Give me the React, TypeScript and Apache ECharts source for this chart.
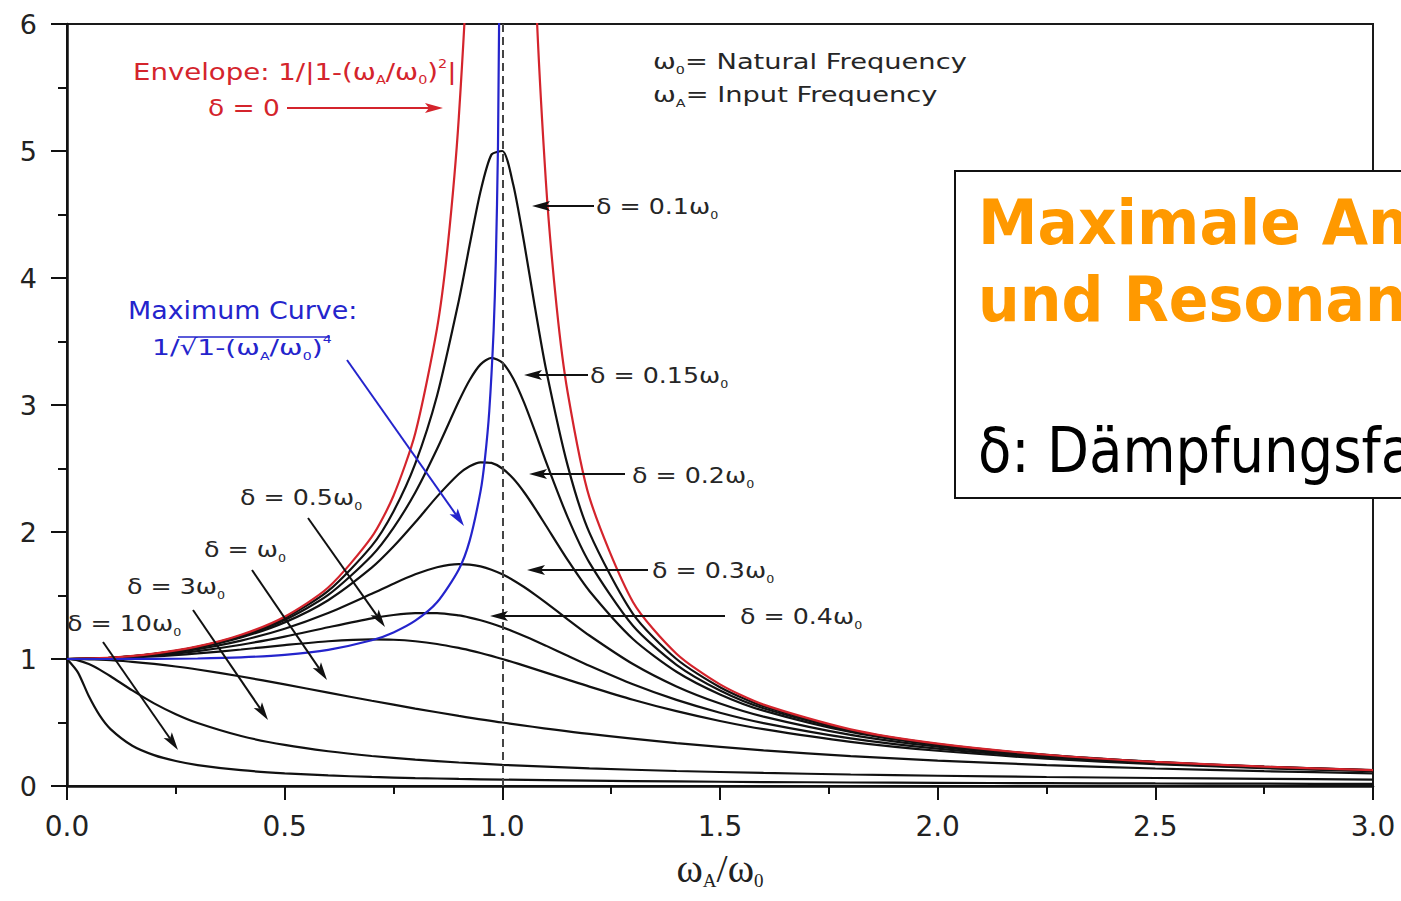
import React, { useEffect, useRef } from "react";
import * as echarts from "echarts";

// ---- Data (ω_A/ω_0 on x, amplitude ratio on y) ----
const xResonant = [0, 0.1, 0.2, 0.3, 0.4, 0.5, 0.6, 0.7, 0.75, 0.8, 0.85, 0.9, 0.925, 0.95, 0.975, 1.0, 1.025, 1.05, 1.075, 1.1, 1.15, 1.2, 1.3, 1.4, 1.5, 1.6, 1.8, 2.0, 2.25, 2.5, 2.75, 3.0];
const yDelta010 = [1, 1.0099, 1.0408, 1.0965, 1.1851, 1.3216, 1.5357, 1.8908, 2.1622, 2.5384, 3.0728, 3.8208, 4.2613, 4.6826, 4.9713, 5.0, 4.7358, 4.2794, 3.7677, 3.288, 2.5245, 1.9952, 1.3562, 1.0, 0.7779, 0.6279, 0.4408, 0.3304, 0.2447, 0.1896, 0.1518, 0.1246];
const yDelta015 = [1, 1.0096, 1.0396, 1.0936, 1.1785, 1.3074, 1.5041, 1.8131, 2.0326, 2.3112, 2.6534, 3.0289, 3.1968, 3.3199, 3.3711, 3.3333, 3.2088, 3.0188, 2.7926, 2.5566, 2.1174, 1.759, 1.2617, 0.9543, 0.7527, 0.6127, 0.434, 0.3269, 0.2428, 0.1886, 0.1512, 0.1242];
const yDelta020 = [1, 1.0093, 1.0381, 1.0895, 1.1695, 1.2883, 1.463, 1.7188, 1.8851, 2.0761, 2.2786, 2.4566, 2.5178, 2.549, 2.5438, 2.5, 2.4206, 2.313, 2.1868, 2.0511, 1.78, 1.5357, 1.1574, 0.8998, 0.7212, 0.5931, 0.425, 0.3221, 0.2403, 0.1871, 0.1503, 0.1236];
const yDelta030 = [1, 1.0082, 1.0336, 1.078, 1.1447, 1.238, 1.3618, 1.5136, 1.5933, 1.6667, 1.7223, 1.7469, 1.7438, 1.7293, 1.7034, 1.6667, 1.6205, 1.5667, 1.5071, 1.4438, 1.3129, 1.1851, 0.9603, 0.7839, 0.6492, 0.5459, 0.4021, 0.3095, 0.2336, 0.1831, 0.1478, 0.122];
const yDelta040 = [1, 1.0068, 1.0275, 1.0626, 1.1125, 1.1765, 1.25, 1.3203, 1.3467, 1.3618, 1.3616, 1.3429, 1.3263, 1.3051, 1.2795, 1.25, 1.2172, 1.1817, 1.1442, 1.1053, 1.0258, 0.9469, 0.8012, 0.6779, 0.5771, 0.4956, 0.3755, 0.2941, 0.2251, 0.178, 0.1445, 0.1197];
const yDelta050 = [1, 1.005, 1.0198, 1.0436, 1.0748, 1.1094, 1.1399, 1.1546, 1.1517, 1.1399, 1.1184, 1.0872, 1.0681, 1.0471, 1.0243, 1.0, 0.9744, 0.9479, 0.9206, 0.893, 0.8373, 0.7824, 0.6795, 0.5891, 0.5121, 0.4475, 0.348, 0.2774, 0.2153, 0.172, 0.1405, 0.117];

const xDamped = [0, 0.025, 0.05, 0.075, 0.1, 0.15, 0.2, 0.25, 0.3, 0.4, 0.5, 0.6, 0.7, 0.8, 0.9, 1.0, 1.2, 1.4, 1.6, 1.8, 2.0, 2.25, 2.5, 2.75, 3.0];
const yDelta1 = [1, 0.9994, 0.9975, 0.9944, 0.9901, 0.978, 0.9615, 0.9412, 0.9174, 0.8621, 0.8, 0.7353, 0.6711, 0.6098, 0.5525, 0.5, 0.4098, 0.3378, 0.2809, 0.2358, 0.2, 0.1649, 0.1379, 0.1168, 0.1];
const yDelta3 = [1, 0.9895, 0.96, 0.9162, 0.8638, 0.7526, 0.6507, 0.5653, 0.4958, 0.3933, 0.3234, 0.2735, 0.2364, 0.2078, 0.1851, 0.1667, 0.1386, 0.1183, 0.1028, 0.0907, 0.0808, 0.0709, 0.0629, 0.0563, 0.0508];
const yDelta10 = [1, 0.8949, 0.708, 0.5557, 0.4481, 0.3169, 0.2431, 0.1966, 0.1648, 0.1243, 0.0997, 0.0832, 0.0714, 0.0625, 0.0556, 0.05, 0.0417, 0.0357, 0.0312, 0.0277, 0.0249, 0.0221, 0.0199, 0.0181, 0.0165];

const xEnvelope = [0, 0.1, 0.2, 0.3, 0.4, 0.5, 0.6, 0.7, 0.75, 0.8, 0.85, 0.875, 0.9, 0.925, 0.95, 1.0, 1.05, 1.075, 1.1, 1.125, 1.15, 1.2, 1.3, 1.4, 1.5, 1.6, 1.8, 2.0, 2.25, 2.5, 2.75, 3.0];
const yEnvelope = [1, 1.0101, 1.0417, 1.0989, 1.1905, 1.3333, 1.5625, 1.9608, 2.2857, 2.7778, 3.6036, 4.2667, 5.2632, 6.9264, 10.256, null, 9.756, 6.4257, 4.7619, 3.7647, 3.1008, 2.2727, 1.4493, 1.0417, 0.8, 0.641, 0.4464, 0.3333, 0.2462, 0.1905, 0.1524, 0.125];

const xMaximum = [0, 0.1, 0.2, 0.3, 0.4, 0.5, 0.6, 0.7, 0.75, 0.8, 0.85, 0.9, 0.925, 0.95, 0.96, 0.97, 0.98, 0.985, 0.99, 0.995];
const yMaximum = [1, 1.0001, 1.0008, 1.0041, 1.013, 1.0328, 1.0719, 1.1472, 1.2095, 1.3015, 1.4464, 1.7052, 1.932, 2.3219, 2.5764, 2.9526, 3.589, 4.1287, 5.038, 7.098];

const dampedCurves = [
  { name: "δ = 0.1ω0", xs: xResonant, ys: yDelta010 },
  { name: "δ = 0.15ω0", xs: xResonant, ys: yDelta015 },
  { name: "δ = 0.2ω0", xs: xResonant, ys: yDelta020 },
  { name: "δ = 0.3ω0", xs: xResonant, ys: yDelta030 },
  { name: "δ = 0.4ω0", xs: xResonant, ys: yDelta040 },
  { name: "δ = 0.5ω0", xs: xResonant, ys: yDelta050 },
  { name: "δ = ω0", xs: xDamped, ys: yDelta1 },
  { name: "δ = 3ω0", xs: xDamped, ys: yDelta3 },
  { name: "δ = 10ω0", xs: xDamped, ys: yDelta10 },
];

const X_MIN = 0, X_MAX = 3, X_STEP = 0.5;
const Y_MIN = 0, Y_MAX = 6, Y_STEP = 1;

const pairs = (xs: number[], ys: (number | null)[]) =>
  xs.map((x, i) => [x, ys[i] === null ? "-" : ys[i]]);

const ANN_FONT = "DejaVu Sans";
const DARK = "#262626";
const RED = "#d4242c";
const BLUE = "#2424cc";

function txt(text: string, x: number, y: number, o: any = {}) {
  const fs = o.fontSize ?? 22;
  const fill = o.fill ?? DARK;
  return {
    type: "text",
    x,
    y,
    scaleX: o.scaleX ?? 1.15,
    z: 100,
    silent: true,
    style: {
      text,
      fill,
      fontFamily: o.fontFamily ?? ANN_FONT,
      fontSize: fs,
      fontWeight: o.fontWeight ?? "normal",
      lineHeight: o.lineHeight ?? 28,
      align: "left",
      verticalAlign: "middle",
      rich: {
        s: { fontSize: Math.round(fs * 0.5), fill, fontFamily: ANN_FONT, verticalAlign: "bottom" },
        p: { fontSize: Math.round(fs * 0.5), fill, fontFamily: ANN_FONT, verticalAlign: "top" },
      },
    },
  };
}

function arrow(x1: number, y1: number, x2: number, y2: number, color = "#111") {
  const dx = x2 - x1, dy = y2 - y1;
  const len = Math.hypot(dx, dy);
  const ux = dx / len, uy = dy / len;
  const hl = 18, hw = 5;
  const bx = x2 - ux * hl, by = y2 - uy * hl;
  return [
    {
      type: "line",
      z: 90,
      silent: true,
      shape: { x1, y1, x2: bx + ux * 4, y2: by + uy * 4 },
      style: { stroke: color, lineWidth: 2 },
    },
    {
      type: "polygon",
      z: 91,
      silent: true,
      shape: { points: [[x2, y2], [bx - uy * hw, by + ux * hw], [bx + ux * 4, by + uy * 4], [bx + uy * hw, by - ux * hw]] },
      style: { fill: color },
    },
  ];
}

export default function App() {
  const ref = useRef<HTMLDivElement>(null);

  useEffect(() => {
    document.body.style.margin = "0";
    const chart = echarts.init(ref.current!, null, { renderer: "svg" });

    const blackSeries = dampedCurves.map((c) => ({
      name: c.name,
      type: "line",
      data: pairs(c.xs, c.ys),
      showSymbol: false,
      symbol: "none",
      smooth: 0.25,
      silent: true,
      clip: true,
      z: 3,
      lineStyle: { color: "#111", width: 2.2 },
    }));

    const graphics: any[] = [
      // annotation texts
      txt("Envelope: 1/|1-(ω{s|A}/ω{s|0}){p|2}|", 133, 72, { fill: RED, scaleX: 1.2, fontSize: 23 }),
      txt("δ = 0", 208, 108, { fill: RED, fontSize: 23 }),
      txt("ω{s|0}= Natural Frequency", 653, 62, { scaleX: 1.3, fontSize: 21 }),
      txt("ω{s|A}= Input Frequency", 653, 95, { scaleX: 1.3, fontSize: 21 }),
      txt("Maximum Curve:", 128, 311, { fill: BLUE, scaleX: 1.12, fontSize: 24 }),
      txt("1/√1-(ω{s|A}/ω{s|0}){p|4}", 152, 348, { fill: BLUE, scaleX: 1.28 }),
      txt("δ = 0.1ω{s|0}", 596, 207),
      txt("δ = 0.15ω{s|0}", 590, 376),
      txt("δ = 0.2ω{s|0}", 632, 476),
      txt("δ = 0.3ω{s|0}", 652, 571),
      txt("δ = 0.4ω{s|0}", 740, 617),
      txt("δ = 0.5ω{s|0}", 240, 498),
      txt("δ = ω{s|0}", 204, 550),
      txt("δ = 3ω{s|0}", 127, 587),
      txt("δ = 10ω{s|0}", 67, 624),
      {
        type: "line",
        z: 100,
        silent: true,
        shape: { x1: 178, y1: 337, x2: 330, y2: 337 },
        style: { stroke: BLUE, lineWidth: 1.5 },
      },
      // arrows
      ...arrow(287, 108, 443, 108, RED),
      ...arrow(594, 206, 532, 206),
      ...arrow(588, 375, 524, 375),
      ...arrow(625, 474, 529, 474),
      ...arrow(648, 570, 527, 570),
      ...arrow(725, 616, 490, 616),
      ...arrow(347, 360, 464, 526, BLUE),
      ...arrow(308, 518, 385, 627),
      ...arrow(252, 570, 327, 680),
      ...arrow(193, 610, 268, 720),
      ...arrow(103, 642, 178, 750),
      // slide box
      {
        type: "rect",
        z: 200,
        silent: true,
        shape: { x: 955, y: 171, width: 520, height: 327 },
        style: { fill: "#ffffff", stroke: "#111", lineWidth: 2 },
      },
      {
        type: "text",
        z: 201,
        x: 978,
        y: 222,
        scaleX: 0.95,
        silent: true,
        style: { text: "Maximale Amplitude", fill: "#ff9900", fontFamily: "DejaVu Sans", fontWeight: "bold", fontSize: 63, align: "left", verticalAlign: "middle" },
      },
      {
        type: "text",
        z: 201,
        x: 978,
        y: 299,
        scaleX: 0.93,
        silent: true,
        style: { text: "und Resonanzfrequenz", fill: "#ff9900", fontFamily: "DejaVu Sans", fontWeight: "bold", fontSize: 63, align: "left", verticalAlign: "middle" },
      },
      {
        type: "text",
        z: 201,
        x: 978,
        y: 451,
        scaleX: 0.88,
        silent: true,
        style: { text: "δ: Dämpfungsfaktor", fill: "#000000", fontFamily: "DejaVu Sans", fontSize: 62, align: "left", verticalAlign: "middle" },
      },
    ];

    const option: any = {
      animation: false,
      backgroundColor: "#ffffff",
      grid: {
        left: 67,
        right: 28,
        top: 24,
        bottom: 115,
        show: true,
        borderColor: "#1a1a1a",
        borderWidth: 2,
        backgroundColor: "transparent",
      },
      xAxis: {
        type: "value",
        min: X_MIN,
        max: X_MAX,
        interval: X_STEP,
        axisLine: { show: true, onZero: false, lineStyle: { color: "#111", width: 2.5 } },
        axisTick: { show: true, length: 14, lineStyle: { color: "#111", width: 2 } },
        minorTick: { show: true, splitNumber: 2, length: 8, lineStyle: { color: "#111", width: 2 } },
        splitLine: { show: false },
        minorSplitLine: { show: false },
        axisLabel: {
          formatter: (v: number) => v.toFixed(1),
          fontSize: 28,
          fontFamily: "DejaVu Sans",
          color: "#222",
          margin: 26,
        },
        name: "{w|ω}{s|A}{w|/ω}{s|0}",
        nameLocation: "middle",
        nameGap: 60,
        nameTextStyle: {
          rich: {
            w: { fontFamily: "Liberation Serif", fontSize: 40, color: "#222", lineHeight: 44 },
            s: { fontFamily: "Liberation Serif", fontSize: 19, color: "#222", verticalAlign: "bottom" },
          },
        },
      },
      yAxis: {
        type: "value",
        min: Y_MIN,
        max: Y_MAX,
        interval: Y_STEP,
        axisLine: { show: true, onZero: false, lineStyle: { color: "#111", width: 2.5 } },
        axisTick: { show: true, length: 16, lineStyle: { color: "#111", width: 2 } },
        minorTick: { show: true, splitNumber: 2, length: 9, lineStyle: { color: "#111", width: 2 } },
        splitLine: { show: false },
        minorSplitLine: { show: false },
        axisLabel: {
          fontSize: 27,
          fontFamily: "DejaVu Sans",
          color: "#222",
          margin: 30,
        },
      },
      series: [
        ...blackSeries,
        {
          name: "Envelope",
          type: "line",
          data: pairs(xEnvelope, yEnvelope),
          showSymbol: false,
          symbol: "none",
          smooth: 0.25,
          connectNulls: false,
          silent: true,
          clip: true,
          z: 4,
          lineStyle: { color: RED, width: 2.2 },
          markLine: {
            silent: true,
            symbol: ["none", "none"],
            label: { show: false },
            lineStyle: { color: "#444", width: 2, type: [8, 5] },
            data: [{ xAxis: 1 }],
          },
        },
        {
          name: "Maximum Curve",
          type: "line",
          data: pairs(xMaximum, yMaximum),
          showSymbol: false,
          symbol: "none",
          smooth: 0.25,
          silent: true,
          clip: true,
          z: 5,
          lineStyle: { color: BLUE, width: 2.2 },
        },
      ],
      graphic: graphics,
    };

    chart.setOption(option);
    return () => chart.dispose();
  }, []);

  return <div ref={ref} style={{ width: 1401, height: 901 }} />;
}
